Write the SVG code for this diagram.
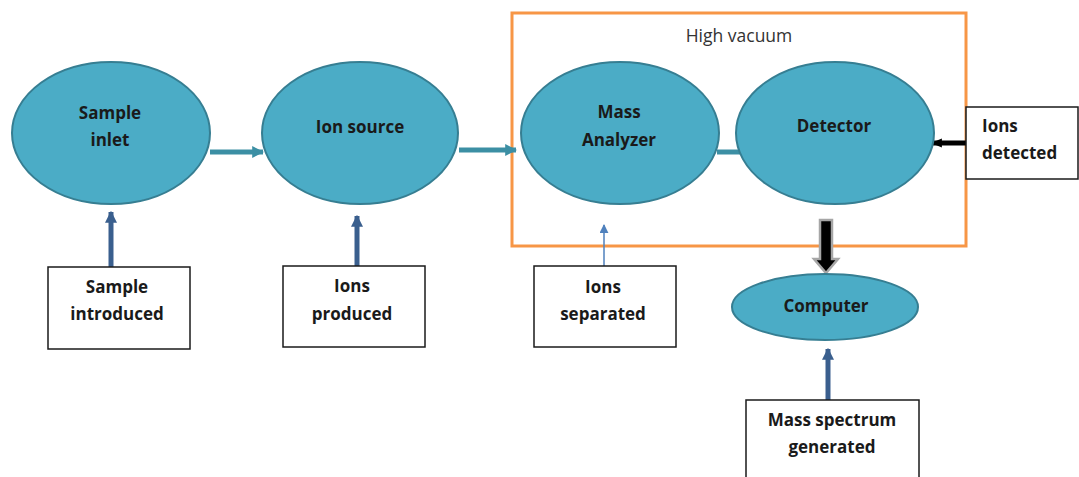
<svg xmlns="http://www.w3.org/2000/svg" width="1079" height="477" viewBox="0 0 1079 477">
  <style>
    .node { fill: #4BACC6; stroke: #367E92; stroke-width: 2; }
    .box { fill: #FFFFFF; stroke: #1A1A1A; stroke-width: 1.5; }
    .lbl { font-family: "Open Sans", "Liberation Sans", sans-serif; font-weight: 700; font-size: 17px; fill: #1A1A1A; text-anchor: middle; }
    .lbl-left { text-anchor: start; }
    .vac { font-family: "Open Sans", "Liberation Sans", sans-serif; font-size: 17.5px; fill: #333333; text-anchor: middle; }
    .flow { stroke: #3C8FA4; stroke-width: 5; fill: none; }
    .feed { stroke: #3A5F8E; stroke-width: 5; fill: none; }
  </style>
  <defs>
    <marker id="headTeal" viewBox="0 0 10 10" refX="9" refY="5" markerWidth="2.4" markerHeight="2.4" orient="auto">
      <path d="M0,0 L10,5 L0,10 Z" fill="#3C8FA4"/>
    </marker>
    <marker id="headBlue" viewBox="0 0 10 10" refX="9" refY="5" markerWidth="2.4" markerHeight="2.4" orient="auto">
      <path d="M0,0 L10,5 L0,10 Z" fill="#3A5F8E"/>
    </marker>
    <marker id="headBlueThin" viewBox="0 0 10 10" refX="9" refY="5" markerWidth="6" markerHeight="6" orient="auto">
      <path d="M0,0 L10,5 L0,10 Z" fill="#4F81BD"/>
    </marker>
    <marker id="headBlack" viewBox="0 0 10 10" refX="9" refY="5" markerWidth="2.2" markerHeight="2.2" orient="auto">
      <path d="M0,1 L10,5 L0,9 Z" fill="#000000"/>
    </marker>
  </defs>

  <!-- high-vacuum enclosure -->
  <g id="vacuum">
    <rect x="512" y="13" width="454" height="233" fill="none" stroke="#F79646" stroke-width="3"/>
    <text class="vac" x="739" y="42">High vacuum</text>
  </g>

  <!-- connectors -->
  <g id="connectors">
    <line class="flow" x1="210" y1="152" x2="263" y2="152" marker-end="url(#headTeal)"/>
    <line class="flow" x1="459" y1="150" x2="516" y2="150" marker-end="url(#headTeal)"/>
    <line class="flow" x1="717" y1="152" x2="740" y2="152"/>
    <line class="feed" x1="111" y1="267" x2="111" y2="212" marker-end="url(#headBlue)"/>
    <line class="feed" x1="357" y1="269" x2="357" y2="216" marker-end="url(#headBlue)"/>
    <line x1="604" y1="266" x2="604" y2="225" stroke="#4F81BD" stroke-width="1.5" marker-end="url(#headBlueThin)"/>
    <line class="feed" x1="828" y1="400" x2="828" y2="349" marker-end="url(#headBlue)"/>
    <!-- detector to computer: black arrow with grey rim -->
    <path d="M820,220 L832,220 L832,259 L838,259 L826,273 L814,259 L820,259 Z" fill="#000000" stroke="#A6A6A6" stroke-width="2.5"/>
    <line x1="974" y1="143" x2="932" y2="143" stroke="#000000" stroke-width="5" marker-end="url(#headBlack)"/>
  </g>

  <g id="sample-inlet">
    <ellipse class="node" cx="111" cy="133" rx="99" ry="71"/>
    <text class="lbl" x="110" y="119">Sample</text>
    <text class="lbl" x="110" y="146">inlet</text>
  </g>
  <g id="ion-source">
    <ellipse class="node" cx="360" cy="133" rx="98" ry="71"/>
    <text class="lbl" x="360" y="133">Ion source</text>
  </g>
  <g id="mass-analyzer">
    <ellipse class="node" cx="620" cy="133" rx="99" ry="71"/>
    <text class="lbl" x="619" y="118">Mass</text>
    <text class="lbl" x="619" y="146">Analyzer</text>
  </g>
  <g id="detector">
    <ellipse class="node" cx="835" cy="133" rx="99" ry="71"/>
    <text class="lbl" x="834" y="132">Detector</text>
  </g>
  <g id="computer">
    <ellipse class="node" cx="825" cy="307" rx="93" ry="33"/>
    <text class="lbl" x="826" y="312">Computer</text>
  </g>

  <g id="sample-introduced">
    <rect class="box" x="48" y="267" width="142" height="82"/>
    <text class="lbl" x="117" y="293">Sample</text>
    <text class="lbl" x="117" y="320">introduced</text>
  </g>
  <g id="ions-produced">
    <rect class="box" x="283" y="266" width="142" height="81"/>
    <text class="lbl" x="352" y="292">Ions</text>
    <text class="lbl" x="352" y="320">produced</text>
  </g>
  <g id="ions-separated">
    <rect class="box" x="534" y="266" width="142" height="81"/>
    <text class="lbl" x="603" y="293">Ions</text>
    <text class="lbl" x="603" y="320">separated</text>
  </g>
  <g id="ions-detected">
    <rect class="box" x="966" y="107" width="112" height="72"/>
    <text class="lbl lbl-left" x="982" y="132">Ions</text>
    <text class="lbl lbl-left" x="982" y="159">detected</text>
  </g>
  <g id="mass-spectrum">
    <rect class="box" x="746" y="400" width="173" height="82"/>
    <text class="lbl" x="832" y="426">Mass spectrum</text>
    <text class="lbl" x="832" y="453">generated</text>
  </g>
</svg>
